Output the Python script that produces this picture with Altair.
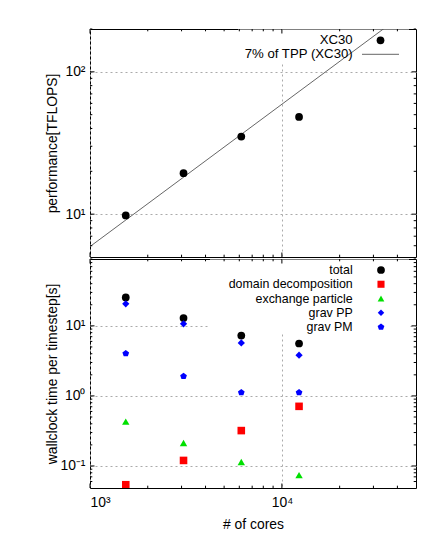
import altair as alt
import pandas as pd

# ---------------- data ----------------
cores = [1536, 3072, 6144, 12288]
perf = [9.8, 19.4, 35.1, 48.2]
tpp_x = [1000, 50000]
tpp_y = [5.92, 296.0]

series = ["total", "domain decomposition", "exchange particle", "grav PP", "grav PM"]
total = [25.4, 12.9, 7.28, 5.6]
domain_dec = [0.054, 0.12, 0.32, 0.71]
exchange = [0.43, 0.213, 0.114, 0.074]
grav_pp = [20.6, 10.7, 5.7, 3.81]
grav_pm = [4.03, 1.91, 1.12, 1.12]

colors = ["#000000", "#ff0000", "#00e000", "#0000ff", "#0000ff"]
pentagon = "M0,-1L0.951,-0.309L0.588,0.809L-0.588,0.809L-0.951,-0.309Z"
shapes = ["circle", "square", "triangle-up", "diamond", pentagon]
sizes = [60, 50, 45, 42, 50]

x_major = [1000, 10000]
x_minor = [2000, 3000, 4000, 5000, 6000, 7000, 8000, 9000, 20000, 30000, 40000]
top_major = [10, 100]
top_minor = [6, 7, 8, 9, 20, 30, 40, 50, 60, 70, 80, 90, 200]
bot_major = [0.1, 1, 10]
bot_minor = [0.06, 0.07, 0.08, 0.09, 0.2, 0.3, 0.4, 0.5, 0.6, 0.7, 0.8, 0.9,
             2, 3, 4, 5, 6, 7, 8, 9, 20, 30, 40, 50, 60, 70, 80, 90]

sup = {1000: "10³", 10000: "10⁴", 10: "10¹", 100: "10²", 0.1: "10⁻¹", 1: "10⁰"}

W = 326
H_TOP = 228
H_BOT = 229
FONT = "Liberation Sans"
FS = 13.9
LFS = 12.4
GRAY = "#555555"


def label_expr(vals):
    expr = "''"
    for v in reversed(vals):
        expr = f"datum.value == {v} ? '{sup[v]}' : ({expr})"
    return expr


def tick_layers(xenc, H):
    layers = []
    for vals, L in ((x_major, 4.5), (x_minor, 2.3)):
        d = pd.DataFrame({"x": vals})
        layers.append(alt.Chart(d).mark_rule(color="black", strokeWidth=1).encode(
            x=xenc, y=alt.value(H), y2=alt.value(H - L)))
        layers.append(alt.Chart(d).mark_rule(color="black", strokeWidth=1).encode(
            x=xenc, y=alt.value(0), y2=alt.value(L)))
    return layers


def ytick_layers(yenc, major, minor):
    layers = []
    for vals, L in ((major, 4.5), (minor, 2.3)):
        d = pd.DataFrame({"y": vals})
        layers.append(alt.Chart(d).mark_rule(color="black", strokeWidth=1).encode(
            y=yenc, x=alt.value(0), x2=alt.value(L)))
        layers.append(alt.Chart(d).mark_rule(color="black", strokeWidth=1).encode(
            y=yenc, x=alt.value(W), x2=alt.value(W - L)))
    return layers


xscale = alt.Scale(type="log", domain=[1000, 50000], nice=False)

# ---------------- top panel ----------------
x_top = alt.X("x:Q", scale=xscale, title=None,
              axis=alt.Axis(values=x_major, labels=False, ticks=False, domain=False,
                            grid=True, title=None))
y_top = alt.Y("y:Q", scale=alt.Scale(type="log", domain=[5, 200], nice=False),
              axis=alt.Axis(values=top_major, labelExpr=label_expr(top_major),
                            ticks=False, tickSize=0, domain=False, grid=True,
                            labelPadding=5, titleX=-38, titleY=H_TOP / 2,
                            titleAngle=270, titleAlign="center", titleBaseline="middle"),
              title="performance[TFLOPS]")

perf_df = pd.DataFrame({"x": cores, "y": perf})
tpp_df = pd.DataFrame({"x": tpp_x, "y": tpp_y})

top_layers = [
    alt.Chart(perf_df).mark_point(opacity=0).encode(x=x_top, y=y_top),
    alt.Chart(pd.DataFrame({"a": [0]})).mark_rect(color="white").encode(
        x=alt.value(148), x2=alt.value(319), y=alt.value(0.5), y2=alt.value(34)),
    alt.Chart(tpp_df).mark_line(color=GRAY, strokeWidth=0.9, clip=True).encode(x=x_top, y=y_top),
    alt.Chart(perf_df).mark_point(filled=True, opacity=1, color="black", size=60,
                                  shape="circle").encode(x=x_top, y=y_top),
]
top_layers += tick_layers(x_top, H_TOP)
top_layers += ytick_layers(y_top, top_major, top_minor)
# legend (gnuplot style)
top_layers += [
    alt.Chart(pd.DataFrame({"label": ["XC30"]})).mark_text(
        align="right", baseline="middle", font=FONT, fontSize=13.2, color="black").encode(
        x=alt.value(262.7), y=alt.value(11.3), text="label:N"),
    alt.Chart(pd.DataFrame({"label": ["7% of TPP (XC30)"]})).mark_text(
        align="right", baseline="middle", font=FONT, fontSize=13.2, color="black").encode(
        x=alt.value(262.7), y=alt.value(25.3), text="label:N"),
    alt.Chart(pd.DataFrame({"label": ["XC30"]})).mark_point(
        filled=True, opacity=1, color="black", size=60, shape="circle").encode(
        x=alt.value(290.5), y=alt.value(11.3)),
    alt.Chart(pd.DataFrame({"label": ["7% of TPP (XC30)"]})).mark_rule(
        color=GRAY, strokeWidth=0.9).encode(
        x=alt.value(272), x2=alt.value(309), y=alt.value(25.3)),
]
top = alt.layer(*top_layers).properties(width=W, height=H_TOP)

# ---------------- bottom panel ----------------
x_bot = alt.X("x:Q", scale=xscale, title="# of cores",
              axis=alt.Axis(values=x_major, labelExpr=label_expr(x_major),
                            ticks=False, tickSize=0, domain=False, grid=True,
                            labelPadding=7, titleY=36, titleBaseline="middle"))
y_bot = alt.Y("y:Q", scale=alt.Scale(type="log", domain=[0.0485, 90], nice=False),
              axis=alt.Axis(values=bot_major, labelExpr=label_expr(bot_major),
                            ticks=False, tickSize=0, domain=False, grid=True,
                            labelPadding=5, titleX=-38, titleY=H_BOT / 2,
                            titleAngle=270, titleAlign="center", titleBaseline="middle"),
              title="wallclock time per timestep[s]")

rows = []
for name, vals in zip(series, [total, domain_dec, exchange, grav_pp, grav_pm]):
    for c, v in zip(cores, vals):
        rows.append({"x": c, "y": v, "series": name})
bot_df = pd.DataFrame(rows)

color_enc = alt.Color("series:N", scale=alt.Scale(domain=series, range=colors), legend=None)
shape_enc = alt.Shape("series:N", scale=alt.Scale(domain=series, range=shapes), legend=None)
size_enc = alt.Size("series:N", scale=alt.Scale(domain=series, range=sizes), legend=None)

bot_layers = [
    alt.Chart(bot_df).mark_point(opacity=0).encode(x=x_bot, y=y_bot),
    alt.Chart(pd.DataFrame({"a": [0]})).mark_rect(color="white").encode(
        x=alt.value(120), x2=alt.value(319), y=alt.value(0.5), y2=alt.value(74)),
    alt.Chart(bot_df).mark_point(filled=True, opacity=1, clip=True).encode(
        x=x_bot, y=y_bot, color=color_enc, shape=shape_enc, size=size_enc),
]
bot_layers += tick_layers(x_bot, H_BOT)
bot_layers += ytick_layers(y_bot, bot_major, bot_minor)
for i, name in enumerate(series):
    yy = 11 + 14.25 * i
    ld = pd.DataFrame({"label": [name]})
    bot_layers.append(alt.Chart(ld).mark_text(
        align="right", baseline="middle", font=FONT, fontSize=LFS, color="black").encode(
        x=alt.value(262.7), y=alt.value(yy), text="label:N"))
    bot_layers.append(alt.Chart(ld).mark_point(
        filled=True, opacity=1, color=colors[i], shape=shapes[i], size=sizes[i]).encode(
        x=alt.value(291), y=alt.value(yy)))
bottom = alt.layer(*bot_layers).properties(width=W, height=H_BOT)

chart = alt.vconcat(top, bottom, spacing=0).properties(
    padding={"left": 36, "top": 20, "right": 5, "bottom": 5}
).configure_view(stroke="black", strokeWidth=1).configure_axis(
    labelFont=FONT, labelFontSize=FS, labelColor="black",
    titleFont=FONT, titleFontSize=FS, titleFontWeight="normal", titleColor="black",
    gridColor="#aaaaaa", gridDash=[2, 3], gridWidth=1,
)

chart.save("out.html", embed_options={"renderer": "svg", "actions": False})
